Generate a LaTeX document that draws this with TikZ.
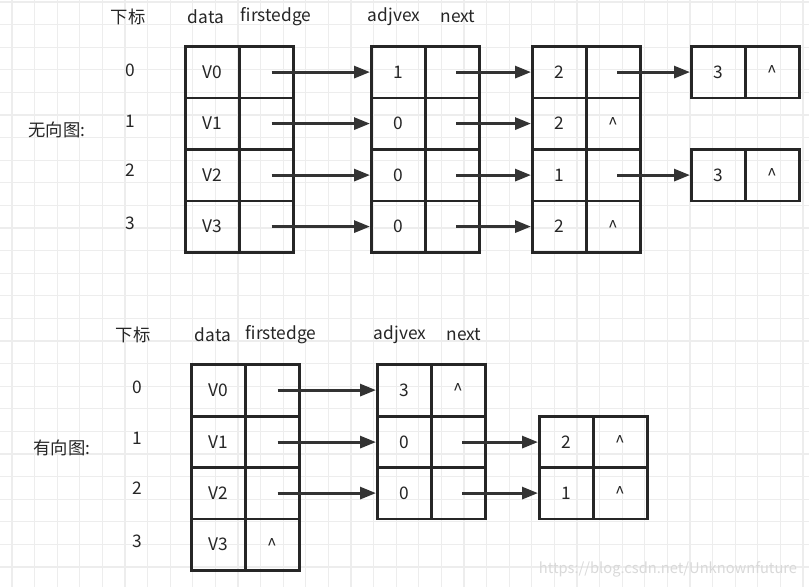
\documentclass[tikz,border=0pt]{standalone}
\usepackage{fontspec}
\setmainfont{Noto Sans CJK SC}
\usetikzlibrary{arrows.meta}
\begin{document}
\begin{tikzpicture}[x=0.75pt,y=-0.75pt,
  cell/.style={draw=black!85,line width=2pt,minimum width=54*0.75pt,minimum height=51.5*0.75pt,inner sep=0pt,anchor=north west,font=\fontsize{13}{13}\selectfont,text=black!85},
  lbl/.style={font=\fontsize{13}{13}\selectfont,text=black!85,inner sep=0pt},
  arr/.style={draw=black!80,line width=2.2pt,-{Triangle[length=12pt,width=9pt]},shorten >=0pt}]
\useasboundingbox (0,0) rectangle (809,587);
\fill[white] (0,0) rectangle (809,587);
\foreach \i in {0,...,35} {\draw[black!7,line width=0.8pt] (12+22.6*\i,0) -- (12+22.6*\i,587);}
\foreach \i in {0,...,26} {\draw[black!7,line width=0.8pt] (0,2+22.6*\i) -- (809,2+22.6*\i);}
% top labels
\node[lbl] (ta) at (128,17) {下标};
\node[lbl] (tb) at (206,17) {data};
\node[lbl] (tc) at (276,17) {firstedge};
\node[lbl] (td) at (394,17) {adjvex};
\node[lbl] (te) at (458,17) {next};
\node[lbl] (ti0) at (130,70) {0};
\node[lbl] (ti1) at (130,121) {1};
\node[lbl] (ti2) at (130,170) {2};
\node[lbl] (ti3) at (130,223) {3};
\node[lbl] (tu) at (57,130) {无向图:};
% top table
\foreach \r/\y/\v in {0/45/V0,1/96.5/V1,2/148/V2,3/199.5/V3}{
  \node[cell] (a\r) at (184,\y) {\v};
  \node[cell] (b\r) at (238,\y) {};}
\foreach \r/\y/\v/\w/\n in {0/45/1/2/,1/96.5/0/2/\textasciicircum,2/148/0/1/,3/199.5/0/2/\textasciicircum}{
  \node[cell] (c\r) at (370,\y) {\v};
  \node[cell] (d\r) at (424,\y) {};
  \node[cell] (e\r) at (531,\y) {\w};
  \node[cell] (f\r) at (585,\y) {\n};}
\node[cell] (g0) at (690,45) {3};
\node[cell] (h0) at (744,45) {\textasciicircum};
\node[cell] (g2) at (690,148) {3};
\node[cell] (h2) at (744,148) {\textasciicircum};
\foreach \r in {0,1,2,3}{
  \draw[arr] ([xshift=4pt]b\r.center) -- (c\r.west);
  \draw[arr] ([xshift=3pt]d\r.center) -- (e\r.west);}
\draw[arr] ([xshift=3pt]f0.center) -- (g0.west);
\draw[arr] ([xshift=3pt]f2.center) -- (g2.west);
% bottom labels
\node[lbl] (ba) at (133,335) {下标};
\node[lbl] (bb) at (213,335) {data};
\node[lbl] (bc) at (281,335) {firstedge};
\node[lbl] (bd) at (400,335) {adjvex};
\node[lbl] (be) at (464,335) {next};
\node[lbl] (bi0) at (137,387) {0};
\node[lbl] (bi1) at (137,438) {1};
\node[lbl] (bi2) at (137,488) {2};
\node[lbl] (bi3) at (137,541) {3};
\node[lbl] (bu) at (62,448) {有向图:};
\foreach \r/\y/\v/\n in {0/363/V0/,1/415/V1/,2/466/V2/,3/517.5/V3/\textasciicircum}{
  \node[cell] (p\r) at (190,\y) {\v};
  \node[cell] (q\r) at (244,\y) {\n};}
\foreach \r/\y/\v/\n in {0/363/3/\textasciicircum,1/415/0/,2/466/0/}{
  \node[cell] (s\r) at (376,\y) {\v};
  \node[cell] (t\r) at (430,\y) {\n};}
\node[cell] (u1) at (538,415) {2};
\node[cell] (v1) at (592,415) {\textasciicircum};
\node[cell] (u2) at (538,466) {1};
\node[cell] (v2) at (592,466) {\textasciicircum};
\foreach \r in {0,1,2}{\draw[arr] ([xshift=4pt]q\r.center) -- (s\r.west);}
\foreach \r in {1,2}{\draw[arr] ([xshift=3pt]t\r.center) -- (u\r.west);}
\node[lbl,text=black!15,font=\fontsize{11}{11}\selectfont] (wm) at (668,569) {https://blog.csdn.net/Unknownfuture};
\end{tikzpicture}
\end{document}
